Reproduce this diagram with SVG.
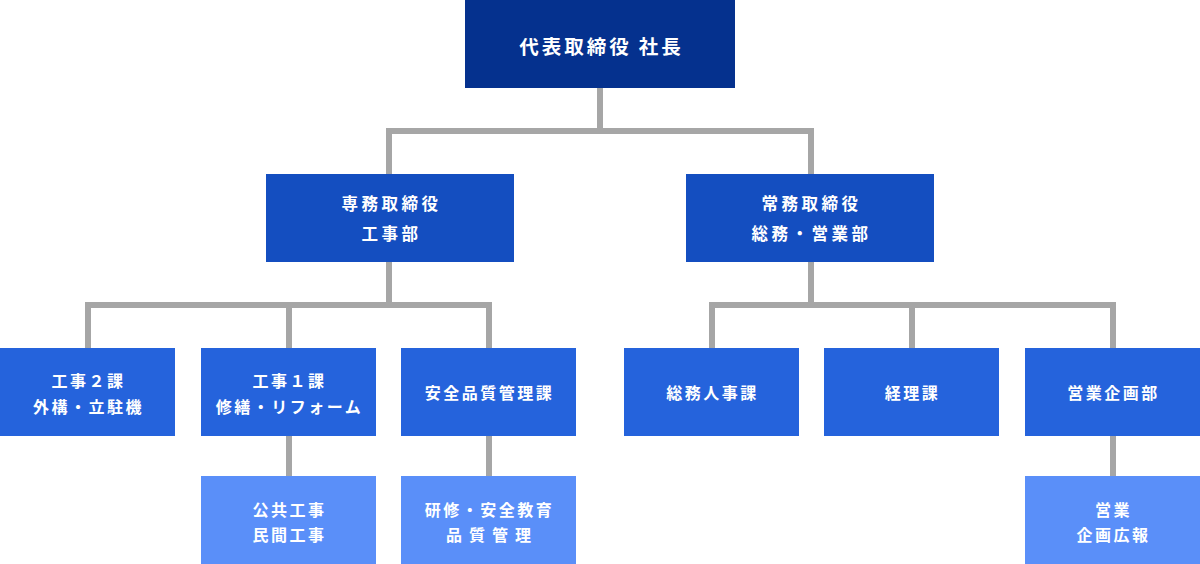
<svg xmlns="http://www.w3.org/2000/svg" width="1200" height="564" viewBox="0 0 1200 564">
<style>
text{font-family:"Noto Sans CJK JP","Noto Sans",sans-serif;font-weight:700;fill:#fff;text-anchor:middle;dominant-baseline:central}
.l1{fill:#05318e}.l2{fill:#144ec0}.l3{fill:#2563dc}.l4{fill:#5a8ff9}
.t1{font-size:19.5px;letter-spacing:3px}
.t2{font-size:16.5px;letter-spacing:3.5px}
.t3{font-size:16px;letter-spacing:2.5px}
.conn path{fill:none;stroke:#a6a6a6;stroke-width:6;stroke-linejoin:miter;stroke-linecap:butt}
</style>
<rect width="1200" height="564" fill="#fff"/>
<g class="conn" id="connectors">
<path d="M600,88 V131"/>
<path d="M389,174 V131 H811 V174"/>
<path d="M389,262 V305"/>
<path d="M88,348 V305 H489 V348"/>
<path d="M289,305 V348"/>
<path d="M811,262 V305"/>
<path d="M712,348 V305 H1113 V348"/>
<path d="M912,305 V348"/>
<path d="M289,436 V476"/>
<path d="M489,436 V476"/>
<path d="M1113,436 V476"/>
</g>
<g id="president"><rect class="l1" x="465" y="0" width="270" height="88"/>
<text class="t1" x="601.5" y="45">代表取締役<tspan dx="7">社長</tspan></text></g>
<g id="senmu"><rect class="l2" x="266" y="174" width="248" height="88"/>
<text class="t2" x="391.5" y="203">専務取締役</text><text class="t2" x="391.5" y="233">工事部</text></g>
<g id="jomu"><rect class="l2" x="686" y="174" width="248" height="88"/>
<text class="t2" x="811.5" y="203">常務取締役</text><text class="t2" x="811.5" y="233">総務・営業部</text></g>
<g id="koji2"><rect class="l3" x="0" y="348" width="175" height="88"/>
<text class="t3" x="88.5" y="380">工事２課</text><text class="t3" x="88.5" y="406">外構・立駐機</text></g>
<g id="koji1"><rect class="l3" x="201" y="348" width="175" height="88"/>
<text class="t3" x="289.5" y="380">工事１課</text><text class="t3" x="289.5" y="406">修繕・リフォーム</text></g>
<g id="anzen"><rect class="l3" x="401" y="348" width="175" height="88"/>
<text class="t3" x="489.5" y="392">安全品質管理課</text></g>
<g id="somu"><rect class="l3" x="624" y="348" width="175" height="88"/>
<text class="t3" x="712.5" y="392">総務人事課</text></g>
<g id="keiri"><rect class="l3" x="824" y="348" width="175" height="88"/>
<text class="t3" x="912.5" y="392">経理課</text></g>
<g id="eigyo"><rect class="l3" x="1025" y="348" width="175" height="88"/>
<text class="t3" x="1113.5" y="392">営業企画部</text></g>
<g id="koukyo"><rect class="l4" x="201" y="476" width="175" height="88"/>
<text class="t3" x="289.5" y="509">公共工事</text><text class="t3" x="289.5" y="534">民間工事</text></g>
<g id="kenshu"><rect class="l4" x="401" y="476" width="175" height="88"/>
<text class="t3" x="489.5" y="509">研修・安全教育</text><text class="t3" x="492" y="534" style="letter-spacing:7px">品質管理</text></g>
<g id="eigyokikaku"><rect class="l4" x="1025" y="476" width="175" height="88"/>
<text class="t3" x="1113.5" y="509">営業</text><text class="t3" x="1113.5" y="534">企画広報</text></g>
</svg>
